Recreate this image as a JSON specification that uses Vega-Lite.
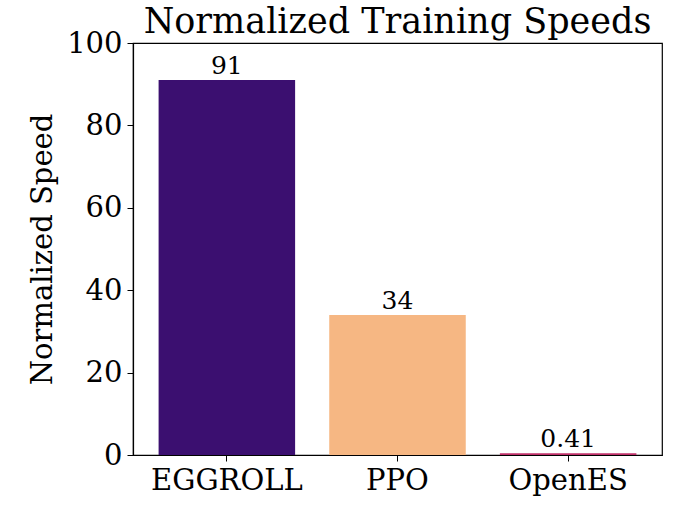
{
  "$schema": "https://vega.github.io/schema/vega-lite/v6.json",
  "width": 529,
  "height": 412,
  "autosize": "none",
  "padding": {"left": 133, "top": 43, "right": 18, "bottom": 53},
  "background": "white",
  "title": {
    "text": "Normalized Training Speeds",
    "font": "DejaVu Serif",
    "fontSize": 35,
    "fontWeight": "normal",
    "color": "black",
    "anchor": "middle",
    "offset": 4,
    "dy": 15
  },
  "config": {
    "view": {"stroke": "black", "strokeWidth": 1.2},
    "axis": {
      "labelFont": "DejaVu Serif",
      "titleFont": "DejaVu Serif",
      "labelColor": "black",
      "titleColor": "black",
      "domainColor": "black",
      "tickColor": "black",
      "grid": false
    }
  },
  "data": {
    "values": [
      {"method": "EGGROLL", "speed": 91, "label": "91"},
      {"method": "PPO", "speed": 34, "label": "34"},
      {"method": "OpenES", "speed": 0.41, "label": "0.41"}
    ]
  },
  "encoding": {
    "x": {
      "field": "method",
      "type": "nominal",
      "sort": null,
      "scale": {"paddingInner": 0.2, "paddingOuter": 0.15},
      "axis": {
        "title": null,
        "labelAngle": 0,
        "labelFontSize": 29,
        "labelPadding": 5,
        "tickSize": 6,
        "domainWidth": 1.2
      }
    },
    "y": {
      "field": "speed",
      "type": "quantitative",
      "scale": {"domain": [0, 100], "nice": false},
      "axis": {
        "title": "Normalized Speed",
        "titleFontSize": 29,
        "titleFontWeight": "normal",
        "titlePadding": 9,
        "labelFontSize": 29,
        "labelPadding": 5,
        "tickSize": 6,
        "values": [0, 20, 40, 60, 80, 100],
        "domainWidth": 1.2
      }
    }
  },
  "layer": [
    {
      "mark": {"type": "bar"},
      "encoding": {
        "color": {
          "field": "method",
          "type": "nominal",
          "sort": null,
          "scale": {"domain": ["EGGROLL", "PPO", "OpenES"], "range": ["#3b0f70", "#f6b783", "#c0306a"]},
          "legend": null
        }
      }
    },
    {
      "mark": {"type": "text", "baseline": "bottom", "dy": -1, "font": "DejaVu Serif", "fontSize": 25, "color": "black"},
      "encoding": {"text": {"field": "label"}}
    }
  ]
}
